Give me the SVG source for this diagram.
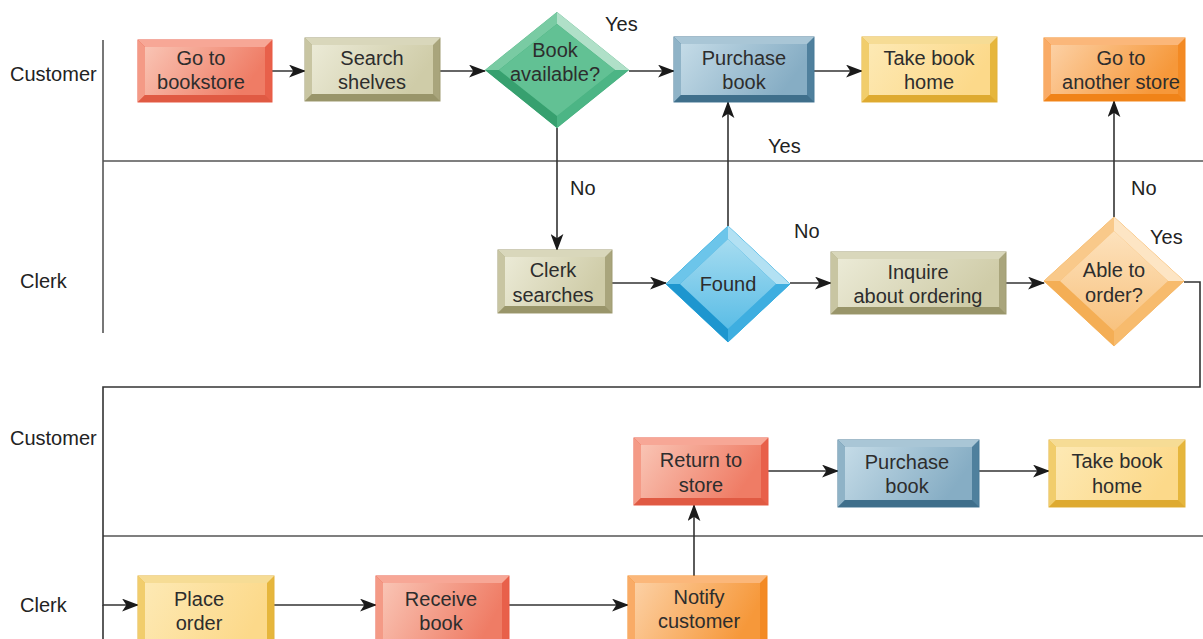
<svg xmlns="http://www.w3.org/2000/svg" width="1203" height="639" viewBox="0 0 1203 639">
<defs>
<marker id="ah" viewBox="0 0 16 12" refX="15" refY="6" markerWidth="17" markerHeight="13" markerUnits="userSpaceOnUse" orient="auto">
<path d="M0,0 L16,6 L0,12 L4,6 Z" fill="#1a1a1a"/>
</marker>
<linearGradient id="gRed" x1="0" y1="0" x2="1" y2="0.3"><stop offset="0" stop-color="#f9c4b4"/><stop offset="1" stop-color="#ef7c65"/></linearGradient>
<linearGradient id="gKhaki" x1="0" y1="0" x2="1" y2="0.3"><stop offset="0" stop-color="#ebead6"/><stop offset="1" stop-color="#cfcca8"/></linearGradient>
<linearGradient id="gBlue" x1="0" y1="0" x2="1" y2="0.3"><stop offset="0" stop-color="#c4dbe7"/><stop offset="1" stop-color="#86adc4"/></linearGradient>
<linearGradient id="gYellow" x1="0" y1="0" x2="1" y2="0.3"><stop offset="0" stop-color="#fde9b4"/><stop offset="1" stop-color="#fcd98a"/></linearGradient>
<linearGradient id="gOrange" x1="0" y1="0" x2="1" y2="0.3"><stop offset="0" stop-color="#fcd0a4"/><stop offset="1" stop-color="#f6983a"/></linearGradient>
<linearGradient id="gCyan" x1="0" y1="0" x2="0" y2="1"><stop offset="0" stop-color="#a6dcf0"/><stop offset="1" stop-color="#5bbde6"/></linearGradient>
<linearGradient id="gPeach" x1="0" y1="0" x2="0" y2="1"><stop offset="0" stop-color="#fde2bd"/><stop offset="1" stop-color="#f8c27e"/></linearGradient>
</defs>
<style>
text{font-family:"Liberation Sans",Arial,sans-serif;font-size:20px;fill:#2d2d2d;text-anchor:middle}
.lane{text-anchor:start;fill:#222}
.lbl{text-anchor:start;fill:#222}
.sw{stroke:#555;stroke-width:1.6;fill:none}
.cn{stroke:#333;stroke-width:1.6;fill:none}
.cna{stroke:#333;stroke-width:1.6;fill:none;marker-end:url(#ah)}
.red .o{fill:#e8604a;stroke:#ea5a44;stroke-width:1}.red .t{fill:#f7a796}.red .l{fill:#f49a86}.red .b{fill:#e05a43}.red .f{fill:url(#gRed)}
.khaki .o{fill:#a9a57c;stroke:#9f9b72;stroke-width:1}.khaki .t{fill:#d9d7bb}.khaki .l{fill:#c8c5a2}.khaki .b{fill:#99956a}.khaki .f{fill:url(#gKhaki)}
.blue .o{fill:#4f809d;stroke:#487a97;stroke-width:1}.blue .t{fill:#a9c6d6}.blue .l{fill:#8fb3c7}.blue .b{fill:#3f6f8b}.blue .f{fill:url(#gBlue)}
.yellow .o{fill:#e6b63c;stroke:#e3b23a;stroke-width:1}.yellow .t{fill:#f6dc95}.yellow .l{fill:#f1cd6c}.yellow .b{fill:#deaa30}.yellow .f{fill:url(#gYellow)}
.orange .o{fill:#f38a24;stroke:#f3871f;stroke-width:1}.orange .t{fill:#fbb77a}.orange .l{fill:#f9ab66}.orange .b{fill:#f08318}.orange .f{fill:url(#gOrange)}
.green .o{fill:#3fa877}.green .t1{fill:#79cba3}.green .t2{fill:#b0e0c8}.green .b1{fill:#37a06f}.green .b2{fill:#4cb585}.green .f{fill:#62c194}
.cyan .o{fill:#2aa3da;stroke:#36b0e2;stroke-width:1}.cyan .t1{fill:#6cc5ea}.cyan .t2{fill:#b3e1f3}.cyan .b1{fill:#1e96cf}.cyan .b2{fill:#3eaee0}.cyan .f{fill:url(#gCyan)}
.peach .o{fill:#f6b35e;stroke:#f8bb6c;stroke-width:1}.peach .t1{fill:#f9c98a}.peach .t2{fill:#fde5c4}.peach .b1{fill:#f4ae55}.peach .b2{fill:#f7bb6d}.peach .f{fill:url(#gPeach)}
</style>
<rect width="1203" height="639" fill="#ffffff"/>

<g id="swimlanes">
<line class="sw" x1="103" y1="40" x2="103" y2="333"/>
<line class="sw" x1="103" y1="161" x2="1203" y2="161"/>
<line class="sw" x1="103" y1="536" x2="1203" y2="536"/>
<text class="lane" x="10" y="81">Customer</text>
<text class="lane" x="20" y="288">Clerk</text>
<text class="lane" x="10" y="445">Customer</text>
<text class="lane" x="20" y="612">Clerk</text>
</g>

<g id="connectors">
<line class="cna" x1="272" y1="71" x2="305" y2="71"/>
<line class="cna" x1="440" y1="71" x2="485" y2="71"/>
<line class="cna" x1="629" y1="71" x2="674" y2="71"/>
<line class="cna" x1="814" y1="71" x2="862" y2="71"/>
<line class="cna" x1="557" y1="128" x2="557" y2="250"/>
<line class="cna" x1="612" y1="283" x2="666" y2="283"/>
<line class="cna" x1="728" y1="226" x2="728" y2="102"/>
<line class="cna" x1="790" y1="283" x2="831" y2="283"/>
<line class="cna" x1="1006" y1="283" x2="1044" y2="283"/>
<line class="cna" x1="1114" y1="217" x2="1114" y2="101"/>
<polyline class="cna" points="1184,282 1200,282 1200,387 103,387 103,605 138,605"/>
<line class="cn" x1="103" y1="605" x2="103" y2="639"/>
<line class="cna" x1="274" y1="605" x2="376" y2="605"/>
<line class="cna" x1="509" y1="605" x2="628" y2="605"/>
<line class="cna" x1="694" y1="576" x2="694" y2="505"/>
<line class="cna" x1="768" y1="471" x2="838" y2="471"/>
<line class="cna" x1="979" y1="471" x2="1049" y2="471"/>
<text class="lbl" x="605" y="31">Yes</text>
<text class="lbl" x="570" y="195">No</text>
<text class="lbl" x="768" y="153">Yes</text>
<text class="lbl" x="794" y="238">No</text>
<text class="lbl" x="1131" y="195">No</text>
<text class="lbl" x="1150" y="244">Yes</text>
</g>

<g id="n1" class="red">
<rect class="o" x="138" y="40" width="134" height="62"/>
<polygon class="t" points="138,40 272,40 265,47 145,47"/>
<polygon class="l" points="138,40 145,47 145,95 138,102"/>
<polygon class="b" points="138,102 145,95 265,95 272,102"/>
<rect class="f" x="145" y="47" width="120" height="48"/>
<text x="201" y="65">Go to</text><text x="201" y="89">bookstore</text>
</g>

<g id="n2" class="khaki">
<rect class="o" x="305" y="38" width="135" height="63"/>
<polygon class="t" points="305,38 440,38 433,45 312,45"/>
<polygon class="l" points="305,38 312,45 312,94 305,101"/>
<polygon class="b" points="305,101 312,94 433,94 440,101"/>
<rect class="f" x="312" y="45" width="121" height="49"/>
<text x="372" y="65">Search</text><text x="372" y="89">shelves</text>
</g>

<g id="n3" class="green">
<polygon class="o" points="557,12 629,70 557,128 485,70"/>
<polygon class="t1" points="557,12 485,70 499,70 557,24"/>
<polygon class="t2" points="557,12 629,70 615,70 557,24"/>
<polygon class="b1" points="485,70 557,128 557,116 499,70"/>
<polygon class="b2" points="629,70 557,128 557,116 615,70"/>
<polygon class="f" points="557,24 615,70 557,116 499,70"/>
<text x="555" y="57">Book</text><text x="555" y="81">available?</text>
</g>

<g id="n4" class="blue">
<rect class="o" x="674" y="37" width="140" height="65"/>
<polygon class="t" points="674,37 814,37 807,44 681,44"/>
<polygon class="l" points="674,37 681,44 681,95 674,102"/>
<polygon class="b" points="674,102 681,95 807,95 814,102"/>
<rect class="f" x="681" y="44" width="126" height="51"/>
<text x="744" y="65">Purchase</text><text x="744" y="89">book</text>
</g>

<g id="n5" class="yellow">
<rect class="o" x="862" y="37" width="135" height="65"/>
<polygon class="t" points="862,37 997,37 990,44 869,44"/>
<polygon class="l" points="862,37 869,44 869,95 862,102"/>
<polygon class="b" points="862,102 869,95 990,95 997,102"/>
<rect class="f" x="869" y="44" width="121" height="51"/>
<text x="929" y="65">Take book</text><text x="929" y="89">home</text>
</g>

<g id="n6" class="orange">
<rect class="o" x="1044" y="38" width="141" height="63"/>
<polygon class="t" points="1044,38 1185,38 1178,45 1051,45"/>
<polygon class="l" points="1044,38 1051,45 1051,94 1044,101"/>
<polygon class="b" points="1044,101 1051,94 1178,94 1185,101"/>
<rect class="f" x="1051" y="45" width="127" height="49"/>
<text x="1121" y="65">Go to</text><text x="1121" y="89">another store</text>
</g>

<g id="n7" class="khaki">
<rect class="o" x="498" y="250" width="114" height="63"/>
<polygon class="t" points="498,250 612,250 605,257 505,257"/>
<polygon class="l" points="498,250 505,257 505,306 498,313"/>
<polygon class="b" points="498,313 505,306 605,306 612,313"/>
<rect class="f" x="505" y="257" width="100" height="49"/>
<text x="553" y="277">Clerk</text><text x="553" y="302">searches</text>
</g>

<g id="n8" class="cyan">
<polygon class="o" points="728,226 790,284 728,342 666,284"/>
<polygon class="t1" points="728,226 666,284 680,284 728,239"/>
<polygon class="t2" points="728,226 790,284 776,284 728,239"/>
<polygon class="b1" points="666,284 728,342 728,329 680,284"/>
<polygon class="b2" points="790,284 728,342 728,329 776,284"/>
<polygon class="f" points="728,239 776,284 728,329 680,284"/>
<text x="728" y="291">Found</text>
</g>

<g id="n9" class="khaki">
<rect class="o" x="831" y="252" width="175" height="62"/>
<polygon class="t" points="831,252 1006,252 999,259 838,259"/>
<polygon class="l" points="831,252 838,259 838,307 831,314"/>
<polygon class="b" points="831,314 838,307 999,307 1006,314"/>
<rect class="f" x="838" y="259" width="161" height="48"/>
<text x="918" y="279">Inquire</text><text x="918" y="303">about ordering</text>
</g>

<g id="n10" class="peach">
<polygon class="o" points="1114,217 1184,281 1114,346 1044,281"/>
<polygon class="t1" points="1114,217 1044,281 1060,281 1114,231"/>
<polygon class="t2" points="1114,217 1184,281 1168,281 1114,231"/>
<polygon class="b1" points="1044,281 1114,346 1114,331 1060,281"/>
<polygon class="b2" points="1184,281 1114,346 1114,331 1168,281"/>
<polygon class="f" points="1114,231 1168,281 1114,331 1060,281"/>
<text x="1114" y="277">Able to</text><text x="1114" y="302">order?</text>
</g>

<g id="n11" class="red">
<rect class="o" x="634" y="438" width="134" height="67"/>
<polygon class="t" points="634,438 768,438 761,445 641,445"/>
<polygon class="l" points="634,438 641,445 641,498 634,505"/>
<polygon class="b" points="634,505 641,498 761,498 768,505"/>
<rect class="f" x="641" y="445" width="120" height="53"/>
<text x="701" y="467">Return to</text><text x="701" y="492">store</text>
</g>

<g id="n12" class="blue">
<rect class="o" x="838" y="440" width="141" height="67"/>
<polygon class="t" points="838,440 979,440 972,447 845,447"/>
<polygon class="l" points="838,440 845,447 845,500 838,507"/>
<polygon class="b" points="838,507 845,500 972,500 979,507"/>
<rect class="f" x="845" y="447" width="127" height="53"/>
<text x="907" y="469">Purchase</text><text x="907" y="493">book</text>
</g>

<g id="n13" class="yellow">
<rect class="o" x="1049" y="440" width="136" height="67"/>
<polygon class="t" points="1049,440 1185,440 1178,447 1056,447"/>
<polygon class="l" points="1049,440 1056,447 1056,500 1049,507"/>
<polygon class="b" points="1049,507 1056,500 1178,500 1185,507"/>
<rect class="f" x="1056" y="447" width="122" height="53"/>
<text x="1117" y="468">Take book</text><text x="1117" y="493">home</text>
</g>

<g id="n14" class="yellow">
<rect class="o" x="138" y="576" width="136" height="72"/>
<polygon class="t" points="138,576 274,576 267,583 145,583"/>
<polygon class="l" points="138,576 145,583 145,648 138,648"/>
<rect class="f" x="145" y="583" width="122" height="65"/>
<text x="199" y="606">Place</text><text x="199" y="630">order</text>
</g>

<g id="n15" class="red">
<rect class="o" x="376" y="576" width="133" height="72"/>
<polygon class="t" points="376,576 509,576 502,583 383,583"/>
<polygon class="l" points="376,576 383,583 383,648 376,648"/>
<rect class="f" x="383" y="583" width="119" height="65"/>
<text x="441" y="606">Receive</text><text x="441" y="630">book</text>
</g>

<g id="n16" class="orange">
<rect class="o" x="628" y="576" width="139" height="72"/>
<polygon class="t" points="628,576 767,576 760,583 635,583"/>
<polygon class="l" points="628,576 635,583 635,648 628,648"/>
<rect class="f" x="635" y="583" width="125" height="65"/>
<text x="699" y="604">Notify</text><text x="699" y="628">customer</text>
</g>
</svg>
